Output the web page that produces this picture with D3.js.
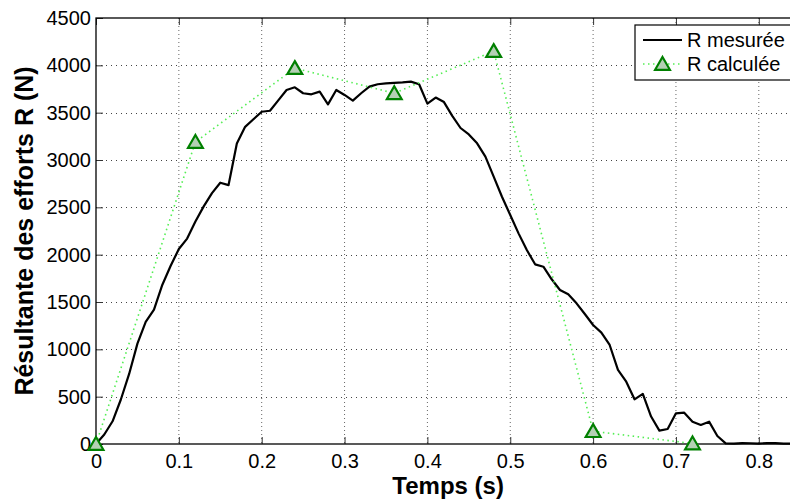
<!DOCTYPE html>
<html><head><meta charset="utf-8">
<script src="https://cdn.jsdelivr.net/npm/d3@7"></script>
<style>
html,body{margin:0;padding:0;background:#fff;overflow:hidden}
text{font-family:"Liberation Sans",Arial,Helvetica,sans-serif}
</style></head>
<body>
<svg id="chart" width="790" height="499"></svg>
<script>
// ---- data ----
const tMeasured = d3.range(0, 85).map(i => +(i * 0.01).toFixed(2));
const rMeasured = [
  0, 100, 240, 470, 740, 1060, 1290, 1420, 1680, 1880,
  2060, 2170, 2350, 2510, 2650, 2760, 2735, 3175, 3350, 3430,
  3510, 3520, 3630, 3740, 3768, 3705, 3694, 3722, 3588, 3740,
  3687, 3627, 3705, 3775, 3800, 3810, 3815, 3820, 3828, 3800,
  3595, 3660, 3612, 3466, 3338, 3270, 3176, 3035, 2824, 2612,
  2419, 2225, 2049, 1898, 1873, 1740, 1627, 1581, 1486, 1373,
  1257, 1176, 1046, 782, 658, 472, 530, 290, 141, 158,
  324, 331, 236, 201, 236, 85, 7, 5, 10, 8,
  5, 10, 10, 5, 5
];
const tCalc = [0, 0.12, 0.24, 0.36, 0.48, 0.60, 0.72];
const rCalc = [0, 3190, 3970, 3705, 4150, 135, 5];
const xTicks = [0, 0.1, 0.2, 0.3, 0.4, 0.5, 0.6, 0.7, 0.8];
const yTicks = [0, 500, 1000, 1500, 2000, 2500, 3000, 3500, 4000, 4500];
const seriesNames = ["R mesurée", "R calculée"];
const xLabel = "Temps (s)";
const yLabel = "Résultante des efforts R (N)";

// ---- layout ----
const svg = d3.select("#chart");
const L = 96, T = 18, B = 444;
const x = d3.scaleLinear().domain([0, 0.85]).range([L, L + 0.85 * 828.5]);
const y = d3.scaleLinear().domain([0, 4500]).range([B, T]);
const R = x.range()[1];

// grid
const grid = svg.append("g");
xTicks.filter(v => v > 0).forEach(v => {
  grid.append("line").attr("x1", x(v)).attr("x2", x(v)).attr("y1", T).attr("y2", B)
    .attr("stroke", "#666").attr("stroke-width", 1).attr("stroke-dasharray", "1,3");
});
yTicks.filter(v => v > 0 && v < 4500).forEach(v => {
  grid.append("line").attr("x1", L).attr("x2", R).attr("y1", Math.round(y(v)) + 0.5).attr("y2", Math.round(y(v)) + 0.5)
    .attr("stroke", "#444").attr("stroke-width", 1).attr("stroke-dasharray", "1,4");
});

// axes (ticks inward)
const fmtX = d => d === 0 ? "0" : d3.format(".1f")(d);
const axB = d3.axisBottom(x).tickValues(xTicks).tickSizeInner(-7).tickSizeOuter(0).tickPadding(10).tickFormat(fmtX);
const axT = d3.axisTop(x).tickValues(xTicks).tickSizeInner(-7).tickSizeOuter(0).tickFormat("");
const axL = d3.axisLeft(y).tickValues(yTicks).tickSizeInner(-7).tickSizeOuter(0).tickPadding(5).tickFormat(d3.format("d"));
function styleAxis(g) {
  g.select(".domain").remove();
  g.selectAll(".tick line").attr("stroke", "#333").attr("stroke-width", 1);
  g.selectAll("text").attr("font-size", 20).attr("fill", "#000")
    .attr("font-family", '"Liberation Sans",Arial,sans-serif');
}
svg.append("g").attr("transform", `translate(0,${B})`).call(axB).call(styleAxis);
svg.append("g").attr("transform", `translate(0,${T})`).call(axT).call(styleAxis);
svg.append("g").attr("transform", `translate(${L},0)`).call(axL).call(styleAxis);

// box
svg.append("rect").attr("x", L).attr("y", T).attr("width", R - L).attr("height", B - T)
  .attr("fill", "none").attr("stroke", "#000").attr("stroke-width", 1.3);

// measured line
const line = d3.line().x(d => x(d[0])).y(d => y(d[1]));
svg.append("path").datum(tMeasured.map((t, i) => [t, rMeasured[i]]))
  .attr("d", line).attr("fill", "none").attr("stroke", "#000").attr("stroke-width", 2.2)
  .attr("stroke-linejoin", "round");

// calculated dotted line + markers
const calc = tCalc.map((t, i) => [t, rCalc[i]]);
svg.append("path").datum(calc).attr("d", line).attr("fill", "none")
  .attr("stroke", "#55ee55").attr("stroke-width", 1.6).attr("stroke-dasharray", "1.5,3.5");
const tri = d3.symbol().type(d3.symbolTriangle).size(95);
svg.append("g").selectAll("path").data(calc).join("path")
  .attr("transform", d => `translate(${x(d[0])},${y(d[1]) + 1.5})`)
  .attr("d", tri).attr("fill", "#b4d0b4").attr("stroke", "#008000").attr("stroke-width", 2.2);

// legend
const lg = svg.append("g");
lg.append("rect").attr("x", 635).attr("y", 25).attr("width", 160).attr("height", 55)
  .attr("fill", "#fff").attr("stroke", "#000").attr("stroke-width", 1.2);
lg.append("line").attr("x1", 643).attr("x2", 682).attr("y1", 40).attr("y2", 40)
  .attr("stroke", "#000").attr("stroke-width", 2.2);
lg.append("line").attr("x1", 643).attr("x2", 682).attr("y1", 64).attr("y2", 64)
  .attr("stroke", "#55ee55").attr("stroke-width", 1.6).attr("stroke-dasharray", "1.5,3.5");
lg.append("path").attr("transform", "translate(662.5,65.5)").attr("d", tri)
  .attr("fill", "#b4d0b4").attr("stroke", "#008000").attr("stroke-width", 2.2);
lg.append("text").attr("x", 687).attr("y", 47).attr("font-size", 20).text(seriesNames[0]);
lg.append("text").attr("x", 687).attr("y", 71).attr("font-size", 20).text(seriesNames[1]);

// axis labels
svg.append("text").attr("x", (L + R) / 2).attr("y", 494).attr("text-anchor", "middle")
  .attr("font-size", 24).attr("font-weight", "bold").text(xLabel);
svg.append("text").attr("transform", `translate(33,${(T + B) / 2}) rotate(-90)`)
  .attr("text-anchor", "middle").attr("font-size", 25).attr("font-weight", "bold").text(yLabel);
</script>
</body></html>
